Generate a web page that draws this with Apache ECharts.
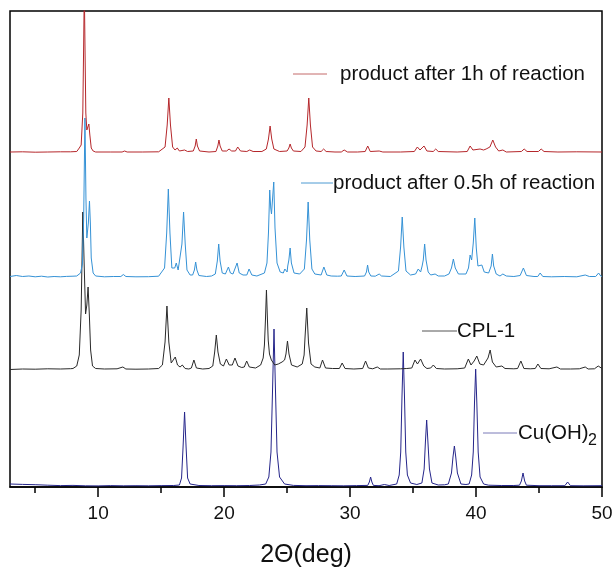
<!DOCTYPE html>
<html>
<head>
<meta charset="utf-8">
<script src="https://cdn.jsdelivr.net/npm/echarts@6/dist/echarts.min.js"></script>
<style>
  html, body { margin: 0; padding: 0; background: #fff; }
  #chart { width: 616px; height: 568px; }
</style>
</head>
<body>
<div id="chart"></div>
<script>
// XRD patterns, [2θ (deg), intensity (a.u.)], each trace measured from its own baseline
const cuOH2 = [
  [3,3],[4,2.6],[5,2.3],[6,1.8],[7,1.4],[8,1.6],[9,1.2],[10,1.1],[11,1.4],[12,1.2],[13,1.3],[14,1.2],[15,1.4],[16,1.5],
  [16.45,2],[16.62,9],[16.74,40],[16.86,75],[16.98,40],[17.1,9],[17.3,3],
  [18,1.5],[19,1.3],[20,1.4],[21,1.3],[22,1.5],[22.8,2],
  [23.3,3],[23.55,10],[23.72,35],[23.85,100],[23.96,158],[24.07,100],[24.2,35],[24.4,10],[24.8,3],
  [25.5,1.6],[26.5,1.3],[27.5,1.4],[28.5,1.3],[29.5,1.2],[30.5,1.4],
  [31.4,1.6],[31.53,5],[31.63,10],[31.73,5],[31.85,1.6],[32.3,1.3],[32.72,2.5],[33.1,1.5],
  [33.7,3],[33.9,12],[34.02,35],[34.12,90],[34.22,135],[34.32,90],[34.42,35],[34.55,12],[34.8,4],[35.3,2.5],
  [35.7,4],[35.88,18],[35.98,45],[36.08,67],[36.18,45],[36.3,18],[36.5,4],[37.0,2],[37.5,2.2],
  [37.8,3],[38.05,14],[38.17,30],[38.28,41],[38.39,30],[38.52,14],[38.8,3],[39.2,2.5],
  [39.45,3],[39.65,12],[39.78,35],[39.88,85],[39.97,118],[40.06,85],[40.17,35],[40.32,10],[40.6,3],[41,1.8],[42,1.5],[43,1.5],
  [43.45,1.8],[43.6,6],[43.73,14],[43.86,6],[44.0,1.8],[45,1.3],[46,1.3],
  [47.05,1.3],[47.27,5],[47.5,1.3],[48.5,1.2],[50,1.3]
];

const cpl1 = [
  [3,0.5],[4,1],[5,0.8],[6,1.2],[7,1],[7.8,1.3],[8.0,1.5],[8.3,4],[8.5,15],[8.65,60],[8.78,158],[8.9,100],[9.0,56],[9.04,54],
  [9.1,65],[9.2,83],[9.3,55],[9.4,20],[9.55,4],[9.8,1.5],[10.5,1],[11.5,1.2],[11.96,3],[12.2,1],[13,0.8],[14,1],[14.8,1.5],
  [15.1,5],[15.31,28],[15.46,64],[15.61,28],[15.8,7],[15.95,8],[16.12,13],[16.3,5],[16.5,3],[16.68,5],[16.9,1.5],[17.2,1],
  [17.4,2],[17.6,10],[17.8,2],[18.3,1],[18.8,1.5],
  [19.1,4],[19.25,18],[19.38,35],[19.51,18],[19.7,6],[19.95,4],[20.18,11],[20.4,5],[20.65,5],[20.86,12],[21.1,4],[21.4,2.5],
  [21.6,3],[21.79,9],[22.0,3],[22.5,2],
  [22.9,5],[23.1,12],[23.2,25],[23.28,50],[23.36,80],[23.44,50],[23.5,30],[23.6,16],[23.75,10],[24.02,5],[24.3,6],[24.6,8],
  [24.8,10],[24.91,16],[25.03,29],[25.15,16],[25.35,5],[25.8,3],[26.2,6],[26.35,15],[26.42,32],[26.56,62],[26.7,27],[26.9,6],[27.2,3],
  [27.6,2],[27.81,10],[28.05,2],[28.6,1.5],[29.15,1.5],[29.37,7],[29.6,1.5],[30.3,1],[31.0,1.5],[31.23,9],[31.45,2],[31.8,1.2],
  [32.16,3],[32.4,1],[33,1],[34,1.2],[34.5,1.5],
  [34.9,2],[35.15,10],[35.35,6],[35.6,11],[35.85,4],[36.1,1.5],[36.4,2],[36.61,5],[36.85,1.5],[37.5,1],[38.5,1.2],
  [39.1,2],[39.39,11],[39.6,5],[39.85,9],[40.06,14],[40.3,6],[40.6,5],[40.95,12],[41.12,20],[41.3,8],[41.6,3],[42.05,4],[42.3,1.5],
  [43,1.2],[43.3,1.5],[43.56,9],[43.8,1.5],[44.3,1.2],[44.7,1.5],[44.91,6],[45.15,1.5],[45.8,1.2],[46.42,3],[46.7,1],[47.5,1],
  [48.2,1.2],[48.67,3],[48.9,1],[49.4,1.2],[49.7,4],[50,1.5]
];

const product05h = [
  [3,1.5],[3.5,2.5],[4,1.5],[4.5,2],[5,1.2],[5.5,1.8],[6,1],[6.5,1.5],[7,1.2],[7.5,1.6],[8,1.8],[8.3,2],[8.6,5],[8.75,14],
  [8.85,60],[8.95,160],[9.03,80],[9.1,40],[9.15,39],[9.22,55],[9.31,77],[9.38,55],[9.45,20],[9.6,5],[9.8,2],[10.5,1.2],
  [11.2,1.5],[11.8,1.5],[12.0,3.5],[12.2,1.5],[13,1.2],[14,1.3],[14.8,1.8],
  [15.27,10],[15.44,45],[15.57,89],[15.7,45],[15.85,10],[16.0,8],[16.08,10],[16.2,15],[16.35,8],[16.5,7],[16.65,34],[16.78,66],
  [16.91,34],[17.05,8],[17.3,3],[17.5,3],[17.64,8],[17.74,16],[17.84,8],[18.0,2.5],[18.6,1.5],[19.0,2],
  [19.3,4],[19.46,17],[19.57,34],[19.68,17],[19.85,5],[20.1,4],[20.2,5],[20.34,11],[20.5,5],[20.7,4],[20.85,5],[21.03,15],
  [21.2,5],[21.5,3],[21.8,3],[21.98,9],[22.2,3],[22.6,2],
  [23.2,5],[23.4,15],[23.52,45],[23.62,88],[23.7,70],[23.76,64],[23.85,80],[23.94,96],[24.04,50],[24.2,15],[24.45,6],[24.7,5],
  [24.82,9],[25.0,6],[25.05,12],[25.14,18],[25.24,30],[25.34,15],[25.55,5],[26.0,4],
  [26.37,9],[26.54,38],[26.67,76],[26.8,38],[26.97,9],[27.2,4],[27.7,3],[27.92,11],[28.15,3],[28.5,2],[29.0,1.8],[29.3,2],
  [29.53,8],[29.75,2],[30.4,1.5],[31.15,2],[31.3,6],[31.39,13],[31.48,6],[31.65,2],[32.0,1.8],[32.31,4],[32.5,2],[33.2,1.5],
  [33.84,7],[34.01,31],[34.14,61],[34.27,31],[34.44,7],[34.8,3],[35.2,4],[35.41,9],[35.6,6],[35.72,12],[35.81,18],[35.92,34],
  [36.03,18],[36.2,6],[36.4,3],[36.75,4],[37.0,2],[37.5,2],
  [37.85,4],[38.05,10],[38.2,19],[38.35,10],[38.6,4],[39.2,4],[39.4,10],[39.53,23],[39.65,18],[39.78,35],[39.9,60],[40.02,30],
  [40.15,12],[40.3,10],[40.46,13],[40.65,6],[41.0,5],[41.2,12],[41.3,24],[41.4,12],[41.6,4],[41.9,2],[42.13,4],[42.4,2],[43.0,1.5],
  [43.5,2.5],[43.76,10],[44.0,2.5],[44.6,1.5],[44.9,1.5],[45.09,5],[45.3,1.5],[46,1.2],[47,1.5],[48,1.2],[48.67,3],[49,1.5],
  [49.5,1.5],[49.73,5],[49.9,2],[50,1.5]
];

const product1h = [
  [3,1],[4,1.2],[5,0.8],[6,1],[7,1.2],[7.8,1.2],[8.3,1.5],[8.5,5],[8.65,8],[8.78,40],[8.85,110],[8.9,165],[8.95,110],[9.02,40],
  [9.1,23],[9.18,26],[9.26,29],[9.34,18],[9.45,5],[9.6,2],[9.8,1],[11,1],[11.9,1],[12.1,2],[12.3,1],[13.5,1],[14.8,1.2],
  [15.31,6],[15.48,28],[15.61,55],[15.74,28],[15.91,6],[16.1,3],[16.28,5],[16.45,2],[16.86,3],[17.1,1.5],[17.55,2],[17.7,7],
  [17.79,14],[17.88,7],[18.05,2],[18.8,1],
  [19.35,1.5],[19.5,7],[19.59,13],[19.68,7],[19.85,2],[20.2,2],[20.39,4],[20.6,2],[20.9,2],[21.08,6],[21.3,2],[21.8,1.5],
  [22.03,3],[22.3,1.5],[23.0,1.5],
  [23.35,4],[23.52,14],[23.65,27],[23.78,14],[23.95,4],[24.4,1.5],[25.0,2],[25.14,5],[25.24,9],[25.34,5],[25.5,2],[26.1,1.5],
  [26.42,6],[26.59,28],[26.72,55],[26.85,28],[27.02,6],[27.3,2],[27.7,1.5],[27.9,4],[28.1,1.5],[28.8,1],[29.3,1],[29.53,3],
  [29.8,1],[30.6,1],[31.2,1.5],[31.4,7],[31.6,1.5],[32.31,2],[32.6,1],[34,1],[35.1,1.5],[35.34,6],[35.55,3],[35.87,7],[36.1,2],
  [36.6,1.5],[36.8,4],[37.0,1.5],[38.5,1],
  [39.3,1.5],[39.53,7],[39.75,3],[39.9,3],[40.32,4],[40.6,3],[40.8,4],[41.1,6],[41.33,13],[41.55,6],[41.8,2],[42.13,3],[42.4,1],
  [43.6,1.5],[43.82,4],[44.05,1.5],[44.95,1.5],[45.17,4],[45.4,1.5],[46.5,1],[48,1.2],[50,1]
];

// Trace names, stacking offsets and colours (bottom to top)
const traceNames = ['Cu(OH)2', 'CPL-1', 'product after 0.5h of reaction', 'product after 1h of reaction'];
const traceData = [cuOH2, cpl1, product05h, product1h];
const traceOffsets = [0, 117, 209, 334];
const traceColors = ['#25258a', '#2a2a2a', '#3592d6', '#b5272b'];

const majorTicks = [10, 20, 30, 40, 50];
const minorTicks = [5, 15, 25, 35, 45];

const chart = echarts.init(document.getElementById('chart'), null, { renderer: 'canvas' });

const series = traceData.map((d, i) => ({
  name: traceNames[i],
  type: 'line',
  xAxisIndex: 0,
  yAxisIndex: 0,
  showSymbol: false,
  symbol: 'none',
  clip: true,
  z: 2 + i,
  lineStyle: { color: traceColors[i], width: 1 },
  data: d.map(p => [p[0], p[1] + traceOffsets[i]])
}));

const FONT = 'Liberation Sans, Arial, sans-serif';

// small legend-like tags placed next to each trace
function tag(x1, x2, y, tx, label, color) {
  return [
    { type: 'line', shape: { x1: x1, y1: y, x2: x2, y2: y }, style: { stroke: color, lineWidth: 1 }, z: 10 },
    { type: 'text', x: tx, y: y, style: { text: label, font: '20.5px ' + FONT, fill: '#111', textAlign: 'left', textVerticalAlign: 'middle' }, z: 10 }
  ];
}

const graphics = [].concat(
  tag(293, 327, 74, 340, traceNames[3], '#c46a6a'),
  tag(301, 333, 183, 333, traceNames[2], '#4c9ad2'),
  tag(422, 457, 331, 457, traceNames[1], '#555'),
  tag(483, 517, 433, 518, 'Cu(OH)', '#7a7ab8'),
  [{ type: 'text', x: 588, y: 441, style: { text: '2', font: '16px ' + FONT, fill: '#111', textAlign: 'left', textVerticalAlign: 'middle' }, z: 10 }]
);

chart.setOption({
  animation: false,
  backgroundColor: '#fff',
  grid: {
    left: 10, right: 14, top: 11, bottom: 81,
    outerBoundsMode: 'none', containLabel: false,
    show: true, borderColor: '#000', borderWidth: 1.5, backgroundColor: 'transparent'
  },
  xAxis: [
    {
      type: 'value', min: 3, max: 50, position: 'bottom',
      name: '2\u0398(deg)', nameLocation: 'middle', nameGap: 56,
      nameTextStyle: { fontFamily: FONT, fontSize: 25, color: '#111' },
      axisLine: { show: true, lineStyle: { color: '#000', width: 1.5 } },
      axisTick: { show: true, inside: false, length: 10, customValues: majorTicks, lineStyle: { color: '#000', width: 1.5 } },
      axisLabel: { show: true, customValues: majorTicks, margin: 17, fontFamily: FONT, fontSize: 19, color: '#111' },
      splitLine: { show: false }
    },
    {
      type: 'value', min: 3, max: 50, position: 'bottom', gridIndex: 0,
      axisLine: { show: false },
      axisTick: { show: true, inside: false, length: 6, customValues: minorTicks, lineStyle: { color: '#000', width: 1.5 } },
      axisLabel: { show: false },
      splitLine: { show: false }
    }
  ],
  yAxis: { type: 'value', min: 0, max: 476, show: false, splitLine: { show: false } },
  series: series,
  graphic: graphics
});
</script>
</body>
</html>
